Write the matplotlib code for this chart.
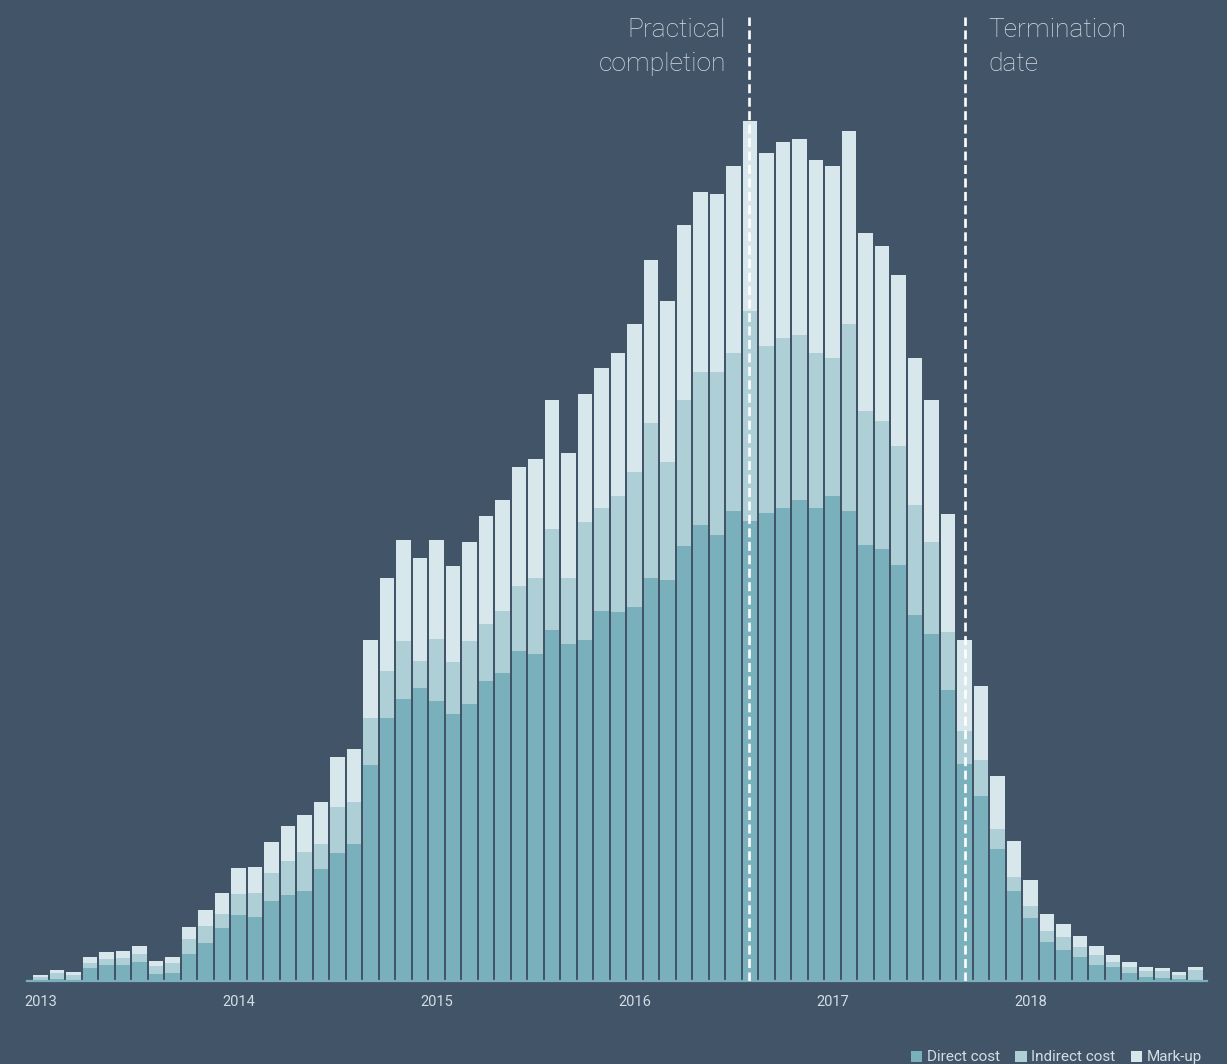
import matplotlib
matplotlib.use("Agg")
import matplotlib.pyplot as plt
from matplotlib.patches import Patch
import numpy as np

# monthly cost split, Jan 2013 .. Nov 2018 (arbitrary units)
months = np.arange(71)
direct = [1, 2, 1, 13, 16, 16, 19, 7, 8, 27, 38, 53,
          66, 64, 80, 86, 90, 112, 128, 137, 216, 263, 282, 293,
          280, 267, 277, 300, 308, 330, 327, 351, 337, 341, 370, 369,
          374, 403, 401, 435, 456, 446, 470, 460, 468, 473, 481, 473,
          485, 470, 436, 432, 416, 366, 347, 291, 217, 185, 132, 90,
          63, 39, 31, 24, 16, 14, 8, 4, 3, 2, 1]
indirect = [3, 6, 5, 5, 6, 7, 8, 8, 10, 15, 17, 14,
            21, 24, 28, 34, 39, 25, 46, 42, 47, 47, 58, 27,
            62, 52, 63, 57, 62, 65, 76, 101, 66, 118, 103, 116,
            135, 155, 118, 146, 153, 163, 158, 210, 167, 170, 165, 155,
            138, 187, 134, 128, 119, 110, 92, 58, 33, 36, 20, 14,
            12, 11, 13, 10, 10, 5, 6, 6, 7, 4, 10]
markup = [2, 3, 3, 6, 7, 7, 8, 5, 6, 12, 16, 21,
          26, 26, 31, 35, 37, 42, 50, 53, 78, 93, 101, 103,
          99, 96, 99, 108, 111, 119, 119, 129, 125, 128, 140, 143,
          148, 163, 161, 175, 180, 178, 187, 190, 193, 196, 196, 193,
          192, 193, 178, 175, 171, 147, 142, 118, 91, 74, 53, 36,
          26, 17, 13, 11, 9, 7, 5, 4, 3, 3, 3]
year_labels = ["2013", "2014", "2015", "2016", "2017", "2018"]
practical_completion = 42.95
termination_date = 56.03

bg = "#415468"
c_direct = "#7aafbc"
c_indirect = "#aecfd6"
c_markup = "#d8e7ec"
txt = "#d3dde4"

fig = plt.figure(figsize=(12.27, 10.64), dpi=100, facecolor=bg)
ax = fig.add_axes([27 / 1227, 83 / 1064, 1180 / 1227, 966 / 1064])
ax.set_facecolor(bg)

direct = np.array(direct)
indirect = np.array(indirect)
markup = np.array(markup)

w = 0.85
ax.bar(months, direct, width=w, color=c_direct, linewidth=0)
ax.bar(months, indirect, width=w, bottom=direct, color=c_indirect, linewidth=0)
ax.bar(months, markup, width=w, bottom=direct + indirect, color=c_markup, linewidth=0)

ax.set_xlim(-0.818, 70.697)
ax.set_ylim(0, 966)

for x in [practical_completion, termination_date]:
    ax.axvline(x, ymin=0, ymax=0.998, color="white", linewidth=1.9,
               linestyle=(0, (3.4, 1.7)), zorder=5)

ax.text(practical_completion - 1.4, 963, "Practical\ncompletion", ha="right", va="top",
        fontsize=19, color=txt, family="Roboto", fontweight="light", linespacing=1.55)
ax.text(termination_date + 1.4, 963, "Termination\ndate", ha="left", va="top",
        fontsize=19, color=txt, family="Roboto", fontweight="light", linespacing=1.55)

for s in ["top", "right", "left"]:
    ax.spines[s].set_visible(False)
ax.spines["bottom"].set_color(c_direct)
ax.spines["bottom"].set_linewidth(1.6)
ax.set_yticks([])
ax.set_xticks(np.arange(0, 71, 12))
ax.set_xticklabels(year_labels, fontsize=10.5, color=txt, family="Roboto")
ax.tick_params(axis="x", length=0, pad=10)

handles = [Patch(facecolor=c_direct, label="Direct cost"),
           Patch(facecolor=c_indirect, label="Indirect cost"),
           Patch(facecolor=c_markup, label="Mark-up")]
leg = fig.legend(handles=handles, loc="lower right", bbox_to_anchor=(0.9886, -0.0105), ncol=3,
                 frameon=False, handlelength=0.75, handleheight=0.75,
                 handletextpad=0.3, columnspacing=1.0, borderaxespad=0.3,
                 prop={"family": "Roboto", "size": 11})
for t in leg.get_texts():
    t.set_color(txt)

fig.savefig("out.png", dpi=100, facecolor=bg)
